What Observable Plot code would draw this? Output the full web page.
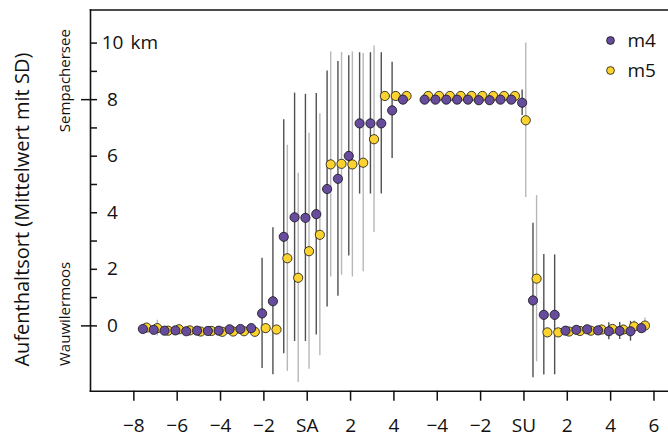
<!DOCTYPE html>
<html>
<head>
<meta charset="utf-8">
<script src="https://cdn.jsdelivr.net/npm/d3@7"></script>
<script src="https://cdn.jsdelivr.net/npm/@observablehq/plot@0.6"></script>
<style>
  html, body { margin: 0; padding: 0; background: #fff; }
  svg { display: block; }
</style>
</head>
<body>
<div id="chart"></div>
<script>
// Hours relative to sunrise (SA) and sunset (SU)
const sunriseHours = [-7.5,-7,-6.5,-6,-5.5,-5,-4.5,-4,-3.5,-3,-2.5,-2,-1.5,-1,-0.5,0,0.5,1,1.5,2,2.5,3,3.5,4,4.5];
const sunsetHours  = [-4.5,-4,-3.5,-3,-2.5,-2,-1.5,-1,-0.5,0,0.5,1,1.5,2,2.5,3,3.5,4,4.5,5,5.5];
const sunsetShift = 10; // SU panel starts 10 h after SA on the shared axis

// m4 around sunrise
const m4RiseMean = [-0.11,-0.14,-0.17,-0.16,-0.19,-0.17,-0.18,-0.17,-0.12,-0.11,-0.08,0.44,0.87,3.15,3.84,3.82,3.95,4.84,5.2,6.01,7.16,7.16,7.16,7.62,8.0];
const m4RiseSD   = [0.1,0.1,0.1,0.1,0.1,0.1,0.1,0.1,0.1,0.1,0.1,1.95,2.6,4.14,4.39,4.37,4.27,4.17,4.15,3.54,2.5,2.5,2.5,1.7,0.1];
// m5 around sunrise
const m5RiseMean = [-0.06,-0.08,-0.17,-0.12,-0.16,-0.2,-0.18,-0.21,-0.2,-0.19,-0.21,-0.08,-0.13,2.39,1.7,2.64,3.22,5.71,5.73,5.71,5.77,6.6,8.13,8.13,8.13];
const m5RiseSD   = [0.1,0.28,0.1,0.1,0.1,0.1,0.1,0.1,0.1,0.1,0.1,0.1,0.1,4.0,3.7,4.17,4.28,3.98,3.94,3.98,3.86,3.3,0.1,0.1,0.1];
// m4 around sunset
const m4SetMean = [8.0,8.0,8.0,8.0,8.0,7.98,7.98,8.0,8.0,7.89,0.9,0.39,0.39,-0.17,-0.14,-0.12,-0.16,-0.19,-0.18,-0.19,-0.08];
const m4SetSD   = [0.1,0.1,0.1,0.1,0.1,0.1,0.1,0.1,0.1,0.45,2.73,2.13,2.12,0.1,0.1,0.1,0.1,0.3,0.3,0.35,0.1];
// m5 around sunset
const m5SetMean = [8.13,8.13,8.13,8.13,8.13,8.13,8.13,8.13,8.13,7.27,1.67,-0.23,-0.23,-0.2,-0.18,-0.17,-0.13,-0.11,-0.13,-0.02,0.01];
const m5SetSD   = [0.1,0.1,0.1,0.1,0.1,0.1,0.1,0.1,0.1,2.73,2.94,0.1,0.1,0.1,0.1,0.1,0.1,0.1,0.1,0.2,0.27];

const seriesNames = ["m4", "m5"];
const xTicks = [-8,-6,-4,-2,0,2,4,6,8,10,12,14,16];
const xTickLabels = ["−8","−6","−4","−2","SA","2","4","−4","−2","SU","2","4","6"];
const yMinorTicks = [0,1,2,3,4,5,6,7,8,9,10];
const yLabelTicks = [0,2,4,6,8,10];
const yPlaceTicks = [0,8];
const placeNames = ["Wauwilermoos", "Sempachersee"]; // at y = 0 and y = 8

const colors = {m4: "#674c9e", m5: "#fbd230"};
const barColors = {m4: "#505050", m5: "#b7b7b9"};

function build(series, hours, shift, mean, sd) {
  return hours.map((h, i) => ({series, pos: h + shift, mean: mean[i], sd: sd[i]}));
}
const m4 = [...build("m4", sunriseHours, 0, m4RiseMean, m4RiseSD), ...build("m4", sunsetHours, sunsetShift, m4SetMean, m4SetSD)];
const m5 = [...build("m5", sunriseHours, 0, m5RiseMean, m5RiseSD), ...build("m5", sunsetHours, sunsetShift, m5SetMean, m5SetSD)];

const W = 668, H = 437, ML = 90, MR = 0, MT = 9.5, MB = 46.3;
const FONT = "'Open Sans', 'Noto Sans', sans-serif";
const FS = 19;

const chart = Plot.plot({
  width: W, height: H,
  marginLeft: ML, marginRight: MR, marginTop: MT, marginBottom: MB,
  style: {fontFamily: FONT, fontSize: FS + "px", color: "#111", background: "#fff"},
  x: {domain: [-10, 16.67]},
  y: {domain: [-2.31, 11.17]},
  marks: [
    // error bars
    Plot.ruleX(m5, {x: "pos", y1: d => d.mean - d.sd, y2: d => d.mean + d.sd, stroke: barColors.m5, strokeWidth: 1.4, dx: 1.8}),
    Plot.ruleX(m4, {x: "pos", y1: d => d.mean - d.sd, y2: d => d.mean + d.sd, stroke: barColors.m4, strokeWidth: 1.4, dx: -1.8}),
    // points
    Plot.dot(m5, {x: "pos", y: "mean", r: 4.6, fill: colors.m5, stroke: "#111", strokeWidth: 0.8, dx: 1.8}),
    Plot.dot(m4, {x: "pos", y: "mean", r: 4.6, fill: colors.m4, stroke: "#111", strokeWidth: 0.8, dx: -1.8}),
    // frame (open on the right)
    Plot.frame({anchor: "top", stroke: "#111", strokeWidth: 1.6}),
    Plot.frame({anchor: "left", stroke: "#111", strokeWidth: 1.6}),
    Plot.frame({anchor: "bottom", stroke: "#111", strokeWidth: 1.6}),
    // x axis
    Plot.axisX({ticks: xTicks, tickFormat: d => xTickLabels[xTicks.indexOf(d)], tickSize: 10, tickPadding: 17, strokeWidth: 1.5, fontSize: FS, label: null}),
    // y inward minor ticks
    Plot.tickY(yMinorTicks, {y: d => d, stroke: "#111", strokeWidth: 1.5, insetRight: W - ML - MR - 7}),
    // y labels inside
    Plot.axisY({ticks: yLabelTicks, tickSize: 0, tickPadding: -22, textAnchor: "middle", tickFormat: d => String(d), fontSize: FS, label: null}),
    Plot.text(["km"], {y: 10, frameAnchor: "left", dx: 40, textAnchor: "start", fontSize: FS, text: d => d}),
    // outward ticks for the two places
    Plot.axisY({ticks: yPlaceTicks, tickSize: 9, tickFormat: () => "", strokeWidth: 1.5, label: null}),
    Plot.text([placeNames[1]], {y: 8, text: d => d, frameAnchor: "left", textAnchor: "middle", dx: -25, dy: -19, rotate: -90, fontSize: 15}),
    Plot.text([placeNames[0]], {y: 0, text: d => d, frameAnchor: "left", textAnchor: "middle", dx: -25, dy: -12, rotate: -90, fontSize: 15}),
    // y title
    Plot.text(["Aufenthaltsort (Mittelwert mit SD)"], {frameAnchor: "left", textAnchor: "middle", dx: -68, dy: 9, rotate: -90, fontSize: 20, text: d => d}),
    // legend
    Plot.dot([seriesNames[0]], {frameAnchor: "top-right", dx: -58, dy: 30.5, r: 3.9, fill: colors.m4, stroke: "#111", strokeWidth: 0.8}),
    Plot.text([seriesNames[0]], {frameAnchor: "top-right", dx: -41, dy: 30.5, textAnchor: "start", lineAnchor: "middle", fontSize: FS, text: d => d}),
    Plot.dot([seriesNames[1]], {frameAnchor: "top-right", dx: -58, dy: 60.5, r: 3.9, fill: colors.m5, stroke: "#111", strokeWidth: 0.8}),
    Plot.text([seriesNames[1]], {frameAnchor: "top-right", dx: -41, dy: 60.5, textAnchor: "start", lineAnchor: "middle", fontSize: FS, text: d => d})
  ]
});
document.getElementById("chart").appendChild(chart);
</script>
</body>
</html>
